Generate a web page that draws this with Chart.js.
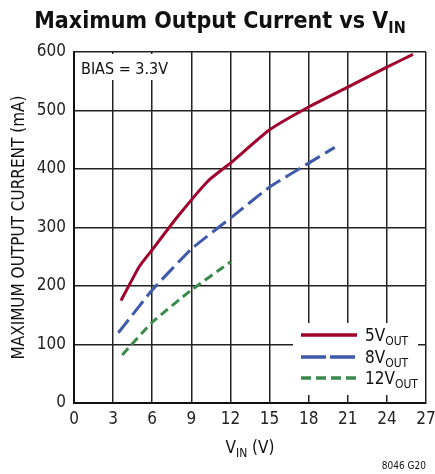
<!DOCTYPE html>
<html>
<head>
<meta charset="utf-8">
<script src="https://cdn.jsdelivr.net/npm/chart.js@4"></script>
<style>
  html, body { margin: 0; padding: 0; background: #fff; }
  #wrap { width: 435px; height: 474px; position: relative; }
</style>
</head>
<body>
<div id="wrap"><canvas id="chart" width="435" height="474"></canvas></div>
<script>
// values
const seriesNames = ["5V", "8V", "12V"];
const vin5 = [3.6, 5, 6, 8, 10.3, 12, 15, 18, 21, 24, 26];
const out5 = [175, 233, 262, 320, 380, 410, 467, 506, 540, 574, 596];
const vin8 = [3.4, 6, 9, 12, 15, 18, 20];
const out8 = [120, 193, 263, 316, 369, 410, 437];
const vin12 = [3.7, 6, 9, 12];
const out12 = [82, 138, 193, 241];
const xTicks = [0, 3, 6, 9, 12, 15, 18, 21, 24, 27];
const yTicks = [0, 100, 200, 300, 400, 500, 600];

const colors = ["#a0002c", "#3f5aa8", "#3b8a4c"];
const dashes = [[], [17, 6], [9, 5]];
const FONT = "'Liberation Sans Narrow', 'DejaVu Sans Condensed', 'Liberation Sans', sans-serif";

const toPts = (xs, ys) => xs.map((x, i) => ({ x: x, y: ys[i] }));

// title, axis titles with subscripts, legend box and note
const extras = {
    id: "extras",
    afterDraw(chart) {
        const ctx = chart.ctx;
        const area = chart.chartArea;
        ctx.save();
        ctx.fillStyle = "#111";
        ctx.textBaseline = "alphabetic";

        // title
        ctx.font = "bold 23px " + FONT;
        ctx.textAlign = "left";
        let t = "Maximum Output Current vs V";
        let w = ctx.measureText(t).width;
        ctx.font = "bold 16px " + FONT;
        let ws = ctx.measureText("IN").width;
        let x0 = 220 - (w + ws) / 2;
        ctx.font = "bold 23px " + FONT;
        ctx.fillText(t, x0, 28);
        ctx.font = "bold 16px " + FONT;
        ctx.fillText("IN", x0 + w, 33);

        // x axis title
        ctx.font = "17px " + FONT;
        let a = "V";
        let wa = ctx.measureText(a).width;
        ctx.font = "12px " + FONT;
        let wb = ctx.measureText("IN").width;
        ctx.font = "17px " + FONT;
        let c = " (V)";
        let wc = ctx.measureText(c).width;
        let xs = (area.left + area.right) / 2 - (wa + wb + wc) / 2;
        ctx.fillText(a, xs, 453);
        ctx.font = "12px " + FONT;
        ctx.fillText("IN", xs + wa, 457);
        ctx.font = "17px " + FONT;
        ctx.fillText(c, xs + wa + wb, 453);

        // y axis title
        ctx.save();
        ctx.translate(24, (area.top + area.bottom) / 2);
        ctx.rotate(-Math.PI / 2);
        ctx.textAlign = "center";
        ctx.font = "17px " + FONT;
        ctx.fillText("MAXIMUM OUTPUT CURRENT (mA)", 0, 0);
        ctx.restore();

        // BIAS label
        ctx.fillStyle = "#fff";
        ctx.fillRect(area.left + 2, area.top + 2, 90, 26);
        ctx.fillStyle = "#111";
        ctx.font = "16px " + FONT;
        ctx.fillText("BIAS = 3.3V", area.left + 7, area.top + 22);

        // legend
        ctx.fillStyle = "#fff";
        ctx.fillRect(293, 323, 125, 72);
        const rows = [335, 357, 378];
        seriesNames.forEach((name, i) => {
            ctx.strokeStyle = colors[i];
            ctx.lineWidth = 3.5;
            ctx.setLineDash(i === 1 ? [25, 4] : (i === 2 ? [10, 5] : []));
            ctx.beginPath();
            ctx.moveTo(301, rows[i]);
            ctx.lineTo(357, rows[i]);
            ctx.stroke();
            ctx.setLineDash([]);
            ctx.fillStyle = "#111";
            ctx.font = "17px " + FONT;
            ctx.fillText(name, 365, rows[i] + 6);
            let wn = ctx.measureText(name).width;
            ctx.font = "12px " + FONT;
            ctx.fillText("OUT", 365 + wn, rows[i] + 10);
        });

        // note
        ctx.font = "10px " + FONT;
        ctx.textAlign = "right";
        ctx.fillText("8046 G20", 426, 469);
        ctx.restore();
    }
};

new Chart(document.getElementById("chart"), {
    type: "line",
    data: {
        datasets: [
            { label: "5V", data: toPts(vin5, out5) },
            { label: "8V", data: toPts(vin8, out8) },
            { label: "12V", data: toPts(vin12, out12) }
        ].map((d, i) => Object.assign(d, {
            borderColor: colors[i],
            borderWidth: 3,
            borderDash: dashes[i],
            pointRadius: 0,
            tension: 0.15,
            fill: false
        }))
    },
    options: {
        responsive: false,
        animation: false,
        layout: { padding: { top: 52, right: 0, left: 0, bottom: 0 } },
        plugins: { legend: { display: false }, tooltip: { enabled: false } },
        scales: {
            x: {
                type: "linear",
                min: 0, max: 27,
                afterBuildTicks: s => { s.ticks = xTicks.map(v => ({ value: v })); },
                afterFit: s => { s.height = 71; s.paddingRight = 9; },
                grid: { color: "#222", lineWidth: 1.5, drawTicks: false },
                border: { color: "#111", width: 2 },
                ticks: { color: "#222", font: { family: FONT, size: 17 }, padding: 6 }
            },
            y: {
                min: 0, max: 600,
                afterBuildTicks: s => { s.ticks = yTicks.map(v => ({ value: v })); },
                afterFit: s => { s.width = 74; },
                grid: { color: "#222", lineWidth: 1.5, drawTicks: false },
                border: { color: "#111", width: 2 },
                ticks: { color: "#222", font: { family: FONT, size: 17 }, padding: 8 }
            }
        }
    },
    plugins: [extras]
});
</script>
</body>
</html>
